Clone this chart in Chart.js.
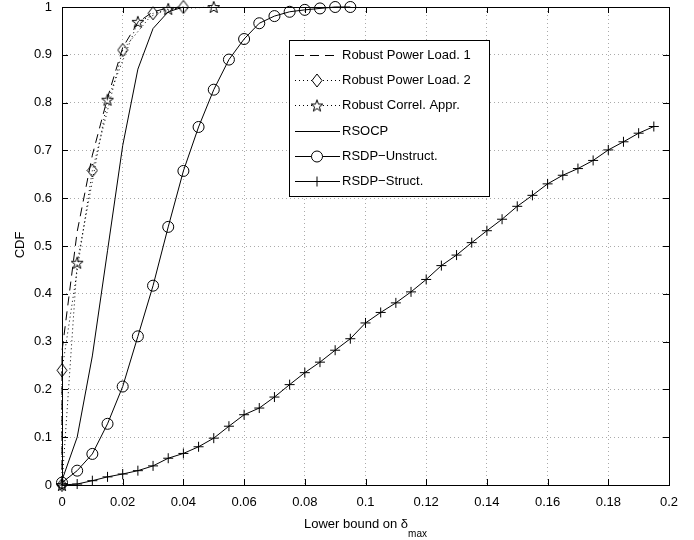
<!DOCTYPE html>
<html>
<head>
<meta charset="utf-8">
<script src="https://cdn.jsdelivr.net/npm/chart.js@4"></script>
<style>
  html, body { margin: 0; padding: 0; background: #fff; }
</style>
</head>
<body>
<canvas id="cdf" width="694" height="540"></canvas>
<script>
// tick labels
const xTicks = [0, 0.02, 0.04, 0.06, 0.08, 0.1, 0.12, 0.14, 0.16, 0.18, 0.2];
const yTicks = [0, 0.1, 0.2, 0.3, 0.4, 0.5, 0.6, 0.7, 0.8, 0.9, 1];

// series
const loadOneX = [0, 0, 0.005, 0.01, 0.015, 0.02, 0.025, 0.03, 0.035, 0.04];
const loadOneY = [0, 0.28, 0.53, 0.69, 0.81, 0.915, 0.968, 0.99, 0.998, 1.0];

const loadTwoX = [0, 0, 0.01, 0.02, 0.03, 0.04];
const loadTwoY = [0, 0.24, 0.658, 0.91, 0.987, 1.0];

const correlX = [0, 0.005, 0.015, 0.025, 0.035, 0.05];
const correlY = [0, 0.465, 0.806, 0.969, 0.996, 1.0];

const rsocpX = [0, 0.005, 0.01, 0.015, 0.02, 0.025, 0.03, 0.035, 0.04];
const rsocpY = [0.01, 0.1, 0.27, 0.49, 0.71, 0.87, 0.955, 0.99, 1.0];

const unstructX = [0, 0.005, 0.01, 0.015, 0.02, 0.025, 0.03, 0.035, 0.04, 0.045,
                   0.05, 0.055, 0.06, 0.065, 0.07, 0.075, 0.08, 0.085, 0.09, 0.095];
const unstructY = [0.005, 0.03, 0.065, 0.128, 0.206, 0.311, 0.417, 0.54, 0.657, 0.749,
                   0.827, 0.89, 0.933, 0.966, 0.981, 0.99, 0.994, 0.997, 1.0, 1.0];

const structX = [0, 0.005, 0.01, 0.015, 0.02, 0.025, 0.03, 0.035, 0.04, 0.045,
                 0.05, 0.055, 0.06, 0.065, 0.07, 0.075, 0.08, 0.085, 0.09, 0.095,
                 0.1, 0.105, 0.11, 0.115, 0.12, 0.125, 0.13, 0.135, 0.14, 0.145,
                 0.15, 0.155, 0.16, 0.165, 0.17, 0.175, 0.18, 0.185, 0.19, 0.195];
const structY = [0, 0.002, 0.009, 0.017, 0.023, 0.03, 0.04, 0.056, 0.066, 0.08,
                 0.098, 0.123, 0.147, 0.161, 0.184, 0.21, 0.235, 0.257, 0.282, 0.306,
                 0.339, 0.361, 0.381, 0.404, 0.43, 0.459, 0.481, 0.507, 0.532, 0.556,
                 0.583, 0.606, 0.63, 0.648, 0.662, 0.679, 0.701, 0.718, 0.736, 0.75];

const seriesNames = ['Robust Power Load. 1', 'Robust Power Load. 2', 'Robust Correl. Appr.',
                     'RSOCP', 'RSDP\u2212Unstruct.', 'RSDP\u2212Struct.'];

function pts(xs, ys) {
    return xs.map((x, i) => ({x: x, y: ys[i]}));
}

// matlab style markers that chart.js lacks
function diamondMarker() {
    const c = document.createElement('canvas');
    c.width = 12; c.height = 15;
    const g = c.getContext('2d');
    g.strokeStyle = '#000';
    g.lineWidth = 1;
    g.beginPath();
    g.moveTo(6, 1); g.lineTo(11, 7.5); g.lineTo(6, 14); g.lineTo(1, 7.5);
    g.closePath();
    g.stroke();
    return c;
}

function starMarker() {
    const c = document.createElement('canvas');
    c.width = 14; c.height = 14;
    const g = c.getContext('2d');
    const cx = 7, cy = 7.6, R = 6.2, r = 2.5;
    g.strokeStyle = '#000';
    g.lineWidth = 1;
    g.beginPath();
    for (let i = 0; i < 10; i++) {
        const a = -Math.PI / 2 + i * Math.PI / 5;
        const rr = i % 2 ? r : R;
        g.lineTo(cx + rr * Math.cos(a), cy + rr * Math.sin(a));
    }
    g.closePath();
    g.stroke();
    return c;
}

const diamond = diamondMarker();
const star = starMarker();

function series(name, data, dash, marker, radius) {
    return {
        label: name,
        data: data,
        borderColor: '#000',
        borderWidth: 1,
        borderDash: dash,
        fill: false,
        tension: 0,
        clip: false,
        pointStyle: marker || 'circle',
        pointRadius: marker ? radius : 0,
        pointHoverRadius: marker ? radius : 0,
        pointBorderColor: '#000',
        pointBackgroundColor: 'rgba(0,0,0,0)',
        pointBorderWidth: 1
    };
}

const FONT = "'Liberation Sans', Arial, Helvetica, sans-serif";

// frame, inner ticks, axis titles and the boxed legend
const matlabLook = {
    id: 'matlabLook',
    afterDraw(chart) {
        const ctx = chart.ctx;
        const a = chart.chartArea;
        const xs = chart.scales.x, ys = chart.scales.y;
        ctx.save();
        ctx.strokeStyle = '#000';
        ctx.lineWidth = 1;
        ctx.setLineDash([]);
        ctx.strokeRect(a.left + 0.5, a.top + 0.5, a.right - a.left, a.bottom - a.top);

        ctx.beginPath();
        xTicks.forEach(v => {
            const px = Math.round(xs.getPixelForValue(v)) + 0.5;
            ctx.moveTo(px, a.bottom); ctx.lineTo(px, a.bottom - 6);
            ctx.moveTo(px, a.top); ctx.lineTo(px, a.top + 6);
        });
        yTicks.forEach(v => {
            const py = Math.round(ys.getPixelForValue(v)) + 0.5;
            ctx.moveTo(a.left, py); ctx.lineTo(a.left + 6, py);
            ctx.moveTo(a.right, py); ctx.lineTo(a.right - 6, py);
        });
        ctx.stroke();

        // axis titles
        ctx.fillStyle = '#000';
        ctx.textBaseline = 'middle';
        ctx.font = '13px ' + FONT;
        const main = 'Lower bound on \u03b4';
        const w1 = ctx.measureText(main).width;
        ctx.font = '10px ' + FONT;
        const w2 = ctx.measureText('max').width;
        const cx = (a.left + a.right) / 2;
        const x0 = cx - (w1 + w2) / 2;
        ctx.font = '13px ' + FONT;
        ctx.textAlign = 'left';
        ctx.fillText(main, x0, 524);
        ctx.font = '10px ' + FONT;
        ctx.fillText('max', x0 + w1, 534);

        ctx.save();
        ctx.translate(20, 245);
        ctx.rotate(-Math.PI / 2);
        ctx.font = '13px ' + FONT;
        ctx.textAlign = 'center';
        ctx.fillText('CDF', 0, 0);
        ctx.restore();

        // legend box
        const lx = a.left + 227, ly = a.top + 33, lw = 200, lh = 156;
        ctx.fillStyle = '#fff';
        ctx.fillRect(lx, ly, lw, lh);
        ctx.strokeStyle = '#000';
        ctx.strokeRect(lx + 0.5, ly + 0.5, lw, lh);
        chart.data.datasets.forEach((ds, i) => {
            const ry = Math.round(ly + 15 + i * 25.2) + 0.5;
            ctx.strokeStyle = '#000';
            ctx.lineWidth = 1;
            ctx.setLineDash(ds.borderDash || []);
            ctx.beginPath();
            ctx.moveTo(lx + 6, ry); ctx.lineTo(lx + 51, ry);
            ctx.stroke();
            ctx.setLineDash([]);
            const mx = lx + 28;
            if (ds.pointRadius > 0) {
                const st = ds.pointStyle;
                if (st instanceof HTMLCanvasElement) {
                    ctx.fillStyle = '#fff';
                    ctx.fillRect(mx - 5, ry - 6, 10, 12);
                    ctx.drawImage(st, mx - st.width / 2, ry - st.height / 2);
                } else if (st === 'circle') {
                    ctx.fillStyle = '#fff';
                    ctx.beginPath();
                    ctx.arc(mx, ry, ds.pointRadius, 0, Math.PI * 2);
                    ctx.fill();
                    ctx.stroke();
                } else if (st === 'cross') {
                    ctx.beginPath();
                    ctx.moveTo(mx, ry - ds.pointRadius); ctx.lineTo(mx, ry + ds.pointRadius);
                    ctx.stroke();
                }
            }
            ctx.fillStyle = '#000';
            ctx.font = '13px ' + FONT;
            ctx.textAlign = 'left';
            ctx.fillText(seriesNames[i], lx + 53, ry);
        });
        ctx.restore();
    }
};

const tickFont = {family: FONT, size: 13};

new Chart(document.getElementById('cdf'), {
    type: 'line',
    data: {
        datasets: [
            series(seriesNames[0], pts(loadOneX, loadOneY), [9, 6], null, 0),
            series(seriesNames[1], pts(loadTwoX, loadTwoY), [1, 3], diamond, 6),
            series(seriesNames[2], pts(correlX, correlY), [1, 3], star, 6),
            series(seriesNames[3], pts(rsocpX, rsocpY), [], null, 0),
            series(seriesNames[4], pts(unstructX, unstructY), [], 'circle', 5.5),
            series(seriesNames[5], pts(structX, structY), [], 'cross', 5)
        ]
    },
    options: {
        responsive: false,
        animation: false,
        devicePixelRatio: 1,
        layout: {padding: {left: 0, top: 7, right: 25, bottom: 0}},
        plugins: {
            legend: {display: false},
            tooltip: {enabled: false}
        },
        scales: {
            x: {
                type: 'linear',
                min: 0, max: 0.2,
                afterBuildTicks: s => { s.ticks = xTicks.map(v => ({value: v})); },
                afterFit: s => { s.height = 55; s.paddingLeft = 0; s.paddingRight = 0; },
                grid: {color: '#aaaaaa', drawTicks: false},
                border: {display: false, dash: [1, 3]},
                ticks: {color: '#000', font: tickFont, padding: 10, maxRotation: 0,
                        callback: v => String(v)}
            },
            y: {
                type: 'linear',
                min: 0, max: 1,
                afterBuildTicks: s => { s.ticks = yTicks.map(v => ({value: v})); },
                afterFit: s => { s.width = 62; s.paddingTop = 0; s.paddingBottom = 0; },
                grid: {color: '#aaaaaa', drawTicks: false},
                border: {display: false, dash: [1, 3]},
                ticks: {color: '#000', font: tickFont, padding: 10,
                        callback: v => String(v)}
            }
        }
    },
    plugins: [matlabLook]
});
</script>
</body>
</html>
